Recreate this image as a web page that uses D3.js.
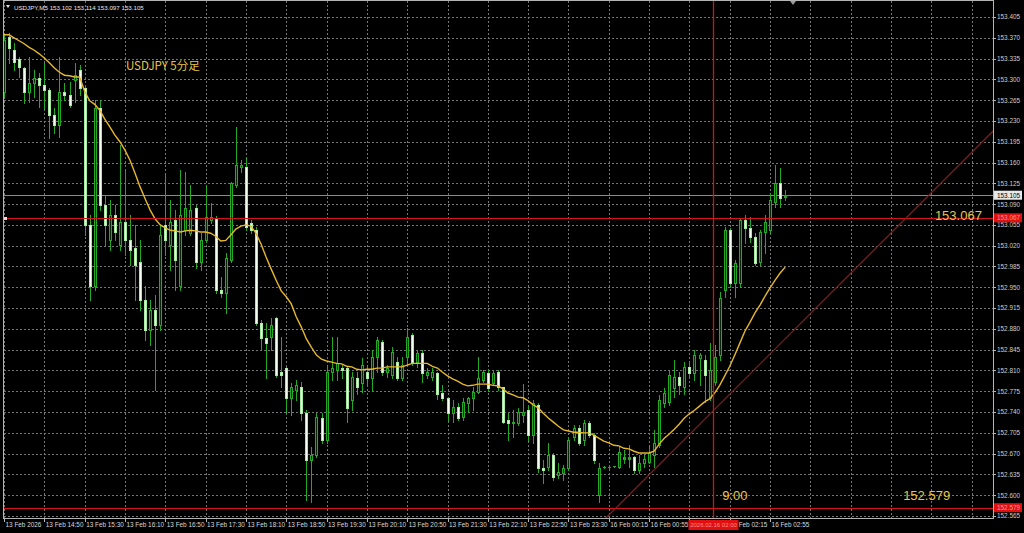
<!DOCTYPE html>
<html><head><meta charset="utf-8">
<script src="https://cdn.jsdelivr.net/npm/d3@7"></script>
<style>html,body{margin:0;padding:0;background:#000;overflow:hidden}</style>
</head><body>
<svg id="c" width="1024" height="533" xmlns="http://www.w3.org/2000/svg"></svg>
<script>
// ---------------- DATA ----------------
const opens = [153.279,153.371,153.349,153.334,153.319,153.279,153.294,153.302,153.291,153.282,153.240,153.223,153.279,153.274,153.299,153.316,153.285,153.055,152.953,153.252,153.089,153.029,153.072,153.021,153.060,153.029,153.016,152.992,152.928,152.878,152.912,152.887,153.055,153.021,153.063,152.953,153.046,153.041,153.083,152.992,153.029,153.063,153.066,152.945,152.940,152.996,153.122,153.152,153.152,153.058,153.046,152.890,152.865,152.866,152.898,152.807,152.814,152.763,152.777,152.782,152.738,152.659,152.668,152.730,152.693,152.807,152.811,152.814,152.814,152.760,152.797,152.789,152.807,152.797,152.832,152.858,152.807,152.802,152.824,152.797,152.832,152.870,152.824,152.839,152.802,152.799,152.806,152.772,152.763,152.738,152.748,152.732,152.755,152.763,152.773,152.794,152.806,152.789,152.807,152.782,152.727,152.722,152.722,152.735,152.743,152.701,152.752,152.646,152.647,152.668,152.634,152.637,152.646,152.698,152.713,152.693,152.722,152.701,152.600,152.647,152.647,152.649,152.647,152.661,152.661,152.664,152.642,152.654,152.656,152.668,152.684,152.755,152.757,152.780,152.799,152.782,152.816,152.806,152.831,152.828,152.763,152.790,152.836,152.945,153.046,152.957,152.957,153.063,153.050,153.035,152.992,153.043,153.046,153.094,153.125,153.102];
const highs = [153.375,153.378,153.361,153.338,153.321,153.338,153.316,153.311,153.328,153.286,153.252,153.338,153.294,153.296,153.328,153.324,153.289,153.072,153.265,153.265,153.105,153.097,153.089,153.189,153.147,153.072,153.055,153.029,152.953,152.928,152.937,153.055,153.139,153.097,153.080,153.147,153.144,153.122,153.088,153.041,153.122,153.092,153.070,152.967,153.008,153.127,153.220,153.164,153.169,153.063,153.051,152.895,152.890,152.898,152.900,152.866,152.816,152.789,152.794,152.791,152.743,152.681,152.738,152.738,152.816,152.866,152.866,152.819,152.816,152.807,152.807,152.831,152.819,152.844,152.866,152.861,152.819,152.849,152.832,152.832,152.882,152.873,152.844,152.844,152.814,152.814,152.807,152.786,152.763,152.760,152.755,152.763,152.765,152.782,152.832,152.811,152.811,152.811,152.811,152.782,152.738,152.743,152.747,152.787,152.752,152.760,152.755,152.659,152.688,152.671,152.654,152.651,152.698,152.718,152.718,152.727,152.725,152.705,152.654,152.649,152.649,152.650,152.681,152.676,152.684,152.666,152.668,152.668,152.681,152.710,152.769,152.780,152.811,152.828,152.807,152.824,152.824,152.844,152.839,152.836,152.856,152.853,152.942,153.051,153.049,152.996,153.066,153.072,153.068,153.041,153.046,153.072,153.109,153.156,153.151,153.114];
const lows = [153.270,153.328,153.316,153.304,153.260,153.262,153.270,153.253,153.252,153.202,153.209,153.203,153.265,153.253,153.262,153.274,153.038,152.928,152.945,153.080,153.021,153.013,153.029,153.013,153.004,152.987,152.928,152.912,152.861,152.853,152.777,152.878,153.004,152.979,152.945,152.945,153.038,153.038,152.982,152.979,153.026,153.058,152.940,152.933,152.907,152.992,153.119,153.144,153.046,153.041,152.887,152.844,152.797,152.844,152.799,152.782,152.738,152.735,152.760,152.727,152.592,152.589,152.664,152.688,152.688,152.794,152.794,152.797,152.723,152.743,152.770,152.774,152.785,152.777,152.807,152.802,152.799,152.797,152.794,152.794,152.819,152.819,152.816,152.790,152.797,152.794,152.762,152.760,152.727,152.723,152.727,152.727,152.740,152.743,152.772,152.791,152.777,152.785,152.777,152.722,152.693,152.698,152.718,152.723,152.693,152.688,152.639,152.620,152.642,152.626,152.629,152.626,152.642,152.693,152.684,152.684,152.698,152.654,152.589,152.646,152.645,152.647,152.645,152.654,152.647,152.638,152.637,152.647,152.654,152.647,152.681,152.748,152.752,152.765,152.770,152.770,152.799,152.794,152.786,152.757,152.760,152.786,152.828,152.933,152.950,152.933,152.950,153.024,153.026,152.987,152.987,153.008,153.041,153.085,153.085,153.097];
const closes = [153.366,153.353,153.329,153.321,153.279,153.294,153.302,153.291,153.282,153.240,153.223,153.279,153.274,153.257,153.307,153.285,153.055,152.953,153.252,153.089,153.055,153.072,153.043,153.060,153.029,153.013,152.987,152.928,152.878,152.912,152.887,153.038,153.029,153.060,152.996,153.072,153.083,153.080,152.992,153.029,153.068,153.068,152.945,152.940,152.999,153.125,153.156,153.156,153.051,153.046,152.890,152.865,152.856,152.886,152.802,152.802,152.763,152.782,152.786,152.738,152.659,152.668,152.732,152.693,152.807,152.814,152.823,152.811,152.747,152.799,152.782,152.819,152.797,152.832,152.861,152.807,152.814,152.841,152.797,152.819,152.866,152.824,152.839,152.806,152.807,152.807,152.770,152.763,152.738,152.748,152.730,152.757,152.763,152.773,152.797,152.807,152.780,152.806,152.782,152.723,152.722,152.723,152.740,152.740,152.701,152.755,152.646,152.642,152.668,152.631,152.639,152.646,152.693,152.713,152.688,152.722,152.701,152.659,152.646,152.647,152.647,152.649,152.673,152.664,152.664,152.642,152.654,152.661,152.671,152.688,152.760,152.772,152.802,152.799,152.786,152.816,152.806,152.836,152.836,152.802,152.811,152.832,152.932,153.046,152.957,152.991,153.063,153.050,153.035,152.991,153.043,153.060,153.097,153.125,153.100,153.105];
const maValues = [153.375,153.375,153.370,153.365,153.360,153.354,153.349,153.343,153.336,153.328,153.319,153.312,153.307,153.306,153.304,153.304,153.280,153.264,153.258,153.248,153.233,153.220,153.206,153.195,153.181,153.164,153.142,153.119,153.099,153.080,153.065,153.055,153.050,153.046,153.045,153.043,153.045,153.046,153.045,153.043,153.043,153.041,153.036,153.028,153.029,153.038,153.048,153.053,153.055,153.053,153.041,153.023,153.001,152.981,152.962,152.944,152.934,152.922,152.900,152.883,152.863,152.849,152.836,152.829,152.826,152.824,152.822,152.821,152.817,152.816,152.812,152.811,152.812,152.812,152.814,152.814,152.816,152.816,152.816,152.816,152.819,152.822,152.822,152.822,152.822,152.817,152.814,152.807,152.801,152.796,152.792,152.787,152.784,152.785,152.787,152.787,152.787,152.785,152.784,152.779,152.772,152.769,152.765,152.764,152.759,152.752,152.747,152.738,152.730,152.723,152.716,152.710,152.708,152.706,152.706,152.705,152.705,152.701,152.696,152.691,152.688,152.684,152.683,152.679,152.678,152.674,152.671,152.671,152.671,152.674,152.686,152.696,152.703,152.711,152.720,152.730,152.737,152.743,152.750,152.757,152.762,152.772,152.785,152.801,152.817,152.836,152.856,152.876,152.891,152.907,152.920,152.935,152.949,152.962,152.974,152.984];
const priceTicks = [153.405,153.370,153.335,153.300,153.265,153.230,153.195,153.160,153.125,153.090,153.055,153.020,152.985,152.950,152.915,152.880,152.845,152.810,152.775,152.740,152.705,152.670,152.635,152.600,152.565];
// time labels as they are visible (01:35 is hidden under the red cursor box, "16 " of 02:15 too)
const timeLabels = ["13 Feb 2026","13 Feb 14:50","13 Feb 15:30","13 Feb 16:10","13 Feb 16:50","13 Feb 17:30","13 Feb 18:10","13 Feb 18:50","13 Feb 19:30","13 Feb 20:10","13 Feb 20:50","13 Feb 21:30","13 Feb 22:10","13 Feb 22:50","13 Feb 23:30","16 Feb 00:15","16 Feb 00:55","Feb 02:15","16 Feb 02:55"];
const timeLabelBars = [0,8,16,24,32,40,48,56,64,72,80,88,96,104,112,120,128,144,152];
const gridBars = [0,8,16,24,32,40,48,56,64,72,80,88,96,104,112,120,128,136,144,152,160,168,176,184,192];
const headerText = "USDJPY,M5  153.102 153.114 153.097 153.105";
const bidPrice = 153.105;
const hLinePrices = [153.067, 152.579];
const vLineBar = 140.7;
const vLineLabel = "2026.02.16 02:00";
const trendPoints = [[121.6, 152.580], [196.0, 153.211]];
const notes = [
  {text:"USDJPY 5分足", bar:24.2, price:153.316},
  {text:"153.067", bar:184.7, price:153.063},
  {text:"9:00", bar:142.5, price:152.592},
  {text:"152.579", bar:178.4, price:152.592}
];

// ---------------- CHART ----------------
const svg = d3.select("#c");
const L = 4, R = 993, T = 1, B = 518;
const x = d3.scaleLinear().domain([0,155]).range([4, 785.2]);
const y = d3.scaleLinear().domain([152.565,153.405]).range([516,17]);
const fmt = d3.format(".3f");
const axisFont = "'Liberation Sans', Arial, sans-serif";

svg.append("rect").attr("width",1024).attr("height",533).attr("fill","#000");

const clip = svg.append("defs").append("clipPath").attr("id","plot");
clip.append("rect").attr("x",L).attr("y",T).attr("width",R-L).attr("height",B-T);

const g = svg.append("g").attr("clip-path","url(#plot)");

// grid
g.selectAll("line.hg").data(priceTicks).join("line")
  .attr("x1",L).attr("x2",R)
  .attr("y1",d=>Math.round(y(d))+0.5).attr("y2",d=>Math.round(y(d))+0.5)
  .attr("stroke","#747474").attr("stroke-dasharray","2,2").attr("stroke-width",1);
g.selectAll("line.vg").data(gridBars).join("line")
  .attr("x1",d=>Math.round(x(d))+0.5).attr("x2",d=>Math.round(x(d))+0.5)
  .attr("y1",T).attr("y2",B)
  .attr("stroke","#747474").attr("stroke-dasharray","2,2").attr("stroke-width",1);

// bid line
g.append("line").attr("x1",L).attr("x2",R)
  .attr("y1",Math.round(y(bidPrice))+0.5).attr("y2",Math.round(y(bidPrice))+0.5)
  .attr("stroke","#8a8a8a").attr("stroke-width",1);

// candles
const bars = d3.range(opens.length).map(i=>({i,o:opens[i],h:highs[i],l:lows[i],c:closes[i]}));
const cg = g.append("g").attr("shape-rendering","crispEdges");
cg.selectAll("line.wick").data(bars).join("line")
  .attr("x1",d=>Math.round(x(d.i))+0.5).attr("x2",d=>Math.round(x(d.i))+0.5)
  .attr("y1",d=>Math.round(y(d.h))).attr("y2",d=>Math.round(y(d.l))+1)
  .attr("stroke","#22aa22").attr("stroke-width",1);
cg.selectAll("rect.body").data(bars).join("rect")
  .attr("x",d=>Math.round(x(d.i))-1)
  .attr("y",d=>Math.round(y(Math.max(d.o,d.c))))
  .attr("width",3)
  .attr("height",d=>Math.max(1,Math.round(y(Math.min(d.o,d.c)))-Math.round(y(Math.max(d.o,d.c)))+1))
  .attr("fill",d=>d.c>=d.o ? "#22aa22" : "#a6eca0");
cg.selectAll("rect.inner").data(bars.filter(d=>Math.abs(y(d.o)-y(d.c))>2)).join("rect")
  .attr("x",d=>Math.round(x(d.i)))
  .attr("y",d=>Math.round(y(Math.max(d.o,d.c)))+1)
  .attr("width",1)
  .attr("height",d=>Math.round(y(Math.min(d.o,d.c)))-Math.round(y(Math.max(d.o,d.c)))-1)
  .attr("fill",d=>d.c>=d.o ? "#062806" : "#f4fff2");

// moving average
g.append("path").datum(maValues)
  .attr("d", d3.line().x((d,i)=>x(i)).y(d=>y(d)))
  .attr("fill","none").attr("stroke","#e6b82c").attr("stroke-width",1.4);

// horizontal red lines
g.selectAll("line.hr").data(hLinePrices).join("line")
  .attr("x1",L).attr("x2",R)
  .attr("y1",d=>Math.round(y(d))+0.5).attr("y2",d=>Math.round(y(d))+0.5)
  .attr("stroke","#d41515").attr("stroke-width",1);
// vertical red line
const vx = Math.round(x(vLineBar))+0.5;
g.append("line").attr("x1",vx).attr("x2",vx)
  .attr("y1",T).attr("y2",B).attr("stroke","#c81818").attr("stroke-width",1.3);
// trend line (extended)
{
  const [p1,p2] = trendPoints;
  const slope = (p2[1]-p1[1])/(p2[0]-p1[0]);
  const b0 = 110, b1 = 200;
  g.append("line")
    .attr("x1",x(b0)).attr("y1",y(p1[1]+slope*(b0-p1[0])))
    .attr("x2",x(b1)).attr("y2",y(p1[1]+slope*(b1-p1[0])))
    .attr("stroke","#8e1c1c").attr("stroke-width",1.2);
}
// small anchor marker
g.append("rect").attr("x",L).attr("y",Math.round(y(hLinePrices[0]))-1).attr("width",3).attr("height",3).attr("fill","#ffd0d0");

// notes
notes.forEach((n,k)=>{
  svg.append("text").attr("x",x(n.bar)).attr("y",y(n.price))
    .attr("fill","#e8c64a")
    .attr("font-family", k===0 ? "'Noto Sans CJK JP', 'Liberation Sans', sans-serif" : "'Liberation Sans', Arial, sans-serif")
    .attr("font-size", k===0 ? 11.5 : 13)
    .text(n.text);
});

// header
svg.append("path").attr("d","M6,5 L10,5 L8,8 Z").attr("fill","#e0e0e0");
svg.append("text").attr("x",14).attr("y",9.5).attr("fill","#e8e8e8")
  .attr("font-family",axisFont).attr("font-size",6.2).text(headerText);
// shift marker
svg.append("path").attr("d","M790,1 L796,1 L793,5 Z").attr("fill","#9a9a9a");

// border
svg.append("rect").attr("x",L-0.5).attr("y",T-0.5).attr("width",R-L+1).attr("height",B-T+1)
  .attr("fill","none").attr("stroke","#b4b4b4").attr("stroke-width",1).attr("shape-rendering","crispEdges");

// price axis
const pa = svg.append("g");
pa.selectAll("line").data(priceTicks).join("line")
  .attr("x1",R).attr("x2",R+3).attr("y1",d=>Math.round(y(d))+0.5).attr("y2",d=>Math.round(y(d))+0.5)
  .attr("stroke","#b4b4b4");
pa.selectAll("text").data(priceTicks).join("text")
  .attr("x",R+4).attr("y",d=>y(d)+2.4)
  .attr("fill","#cfcfcf").attr("font-family",axisFont).attr("font-size",6.4)
  .text(d=>fmt(d));
// bid label
{
  const yy = y(bidPrice);
  pa.append("rect").attr("x",R+1).attr("y",yy-4.5).attr("width",28).attr("height",9).attr("fill","#e8e8e8");
  pa.append("text").attr("x",R+4).attr("y",yy+2.4).attr("fill","#000").attr("font-family",axisFont).attr("font-size",6.4).text(fmt(bidPrice));
}
hLinePrices.forEach(p=>{
  const yy = y(p);
  pa.append("rect").attr("x",R+1).attr("y",yy-4.5).attr("width",28).attr("height",9).attr("fill","#e01010");
  pa.append("text").attr("x",R+4).attr("y",yy+2.4).attr("fill","#ff9a9a").attr("font-family",axisFont).attr("font-size",6.4).text(fmt(p));
});

// time axis
const ta = svg.append("g");
ta.selectAll("line").data(gridBars.filter(b=>b<=152)).join("line")
  .attr("x1",d=>Math.round(x(d))+0.5).attr("x2",d=>Math.round(x(d))+0.5).attr("y1",B).attr("y2",B+4)
  .attr("stroke","#b4b4b4");
ta.selectAll("text").data(timeLabelBars).join("text")
  .attr("x",(d,i)=> timeLabels[i].startsWith("Feb") ? x(vLineBar)+25.5 : x(d)+1.5).attr("y",B+9)
  .attr("fill","#d8d8d8").attr("font-family",axisFont).attr("font-size",6.4)
  .text((d,i)=>timeLabels[i]);
{
  ta.append("rect").attr("x",vx-25).attr("y",B+2).attr("width",50).attr("height",10).attr("fill","#e01010");
  ta.append("text").attr("x",vx).attr("y",B+9.3).attr("text-anchor","middle").attr("fill","#ff8c8c")
    .attr("font-family",axisFont).attr("font-size",6.0).text(vLineLabel);
}
</script>
</body></html>
